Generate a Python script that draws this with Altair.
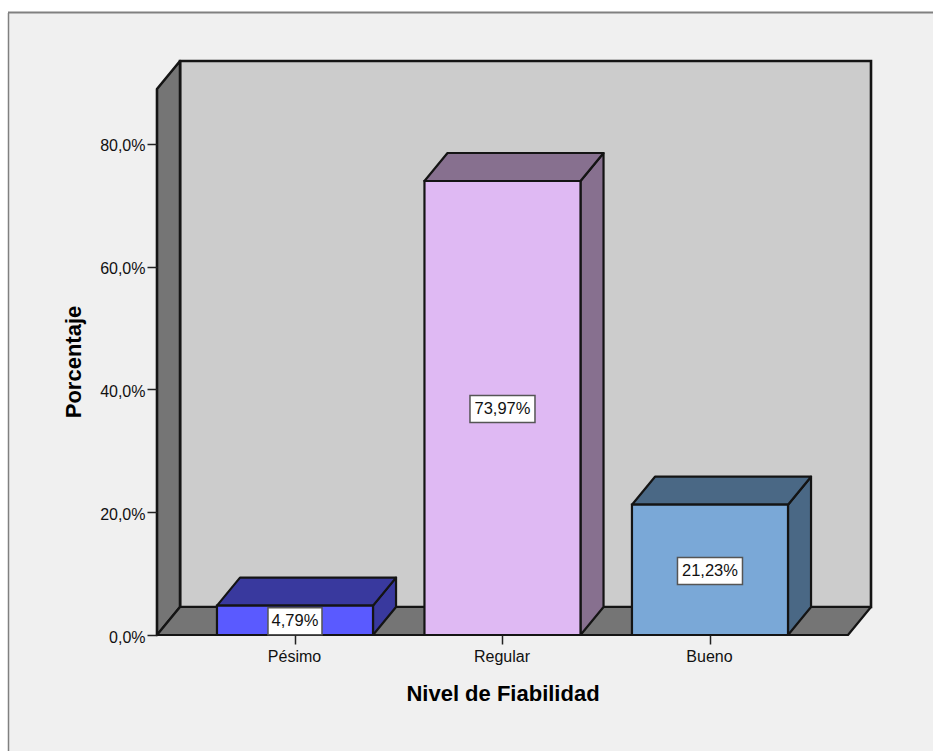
import altair as alt
import pandas as pd

# Survey results: share of respondents per reliability level
categories = ["Pésimo", "Regular", "Bueno"]
percentages = [4.79, 73.97, 21.23]
value_labels = ["4,79%", "73,97%", "21,23%"]
front_colors = ["#5a5aff", "#dfb9f3", "#7aa8d7"]
shade_colors = ["#39399e", "#87708f", "#4a6885"]
y_ticks = [0, 20, 40, 60, 80]

# Pseudo-3D geometry in axis units
BAR_HALF = 0.376
DEPTH_X = 0.111
DEPTH_Y = 4.56
X_MIN = -0.665
X_MAX = 2.665
Y_MAX = 88.96
LABEL_DROP = 0.17
EDGE = "#141414"
FONT = "Liberation Sans"

x_axis = alt.Axis(
    values=[0, 1, 2],
    labelExpr="{}[datum.value]".format(categories),
    title="Nivel de Fiabilidad",
    titleFont=FONT, titleFontSize=22, titleFontWeight="bold", titleColor="#000000",
    titleX=345.5, titleY=65, titleBaseline="alphabetic",
    labelFont=FONT, labelFontSize=16, labelColor="#111111", labelPadding=4, labelOffset=-1,
    tickSize=9, tickWidth=1.5, tickColor="#222222",
    domain=False, grid=False, labelFlush=False, labelOverlap=False, zindex=1,
)
y_axis = alt.Axis(
    values=y_ticks,
    labelExpr="replace(format(datum.value, '.1f'), '.', ',') + '%'",
    title="Porcentaje",
    titleFont=FONT, titleFontSize=22, titleFontWeight="bold", titleColor="#000000",
    titleX=-76.5, titleY=300.5, titleBaseline="alphabetic",
    labelFont=FONT, labelFontSize=16, labelColor="#111111", labelPadding=2, labelOffset=2,
    tickSize=10, tickWidth=1.5, tickColor="#222222",
    domain=False, grid=False, labelOverlap=False, zindex=1,
)
x_scale = alt.Scale(domain=[X_MIN, X_MAX + DEPTH_X], nice=False, zero=False)
y_scale = alt.Scale(domain=[0, Y_MAX + DEPTH_Y], nice=False, zero=False)


def X(field):
    return alt.X(field, type="quantitative", scale=x_scale, axis=x_axis)


def Y(field):
    return alt.Y(field, type="quantitative", scale=y_scale, axis=y_axis)


def side_face(x0, base, top, fill, width=2.2):
    """A face whose vertical edges run from base to top, receding by the depth offset."""
    data = pd.DataFrame({
        "x": [x0, x0 + DEPTH_X],
        "low": [base, base + DEPTH_Y],
        "high": [top, top + DEPTH_Y],
    })
    return alt.Chart(data).mark_area(
        fill=fill, stroke=EDGE, strokeWidth=width, strokeJoin="round"
    ).encode(x=X("x"), y=Y("low"), y2="high")


def top_face(x0, x1, level, fill, width=2.2):
    """A face whose horizontal edges span x0..x1, receding by the depth offset."""
    data = pd.DataFrame({
        "y": [level, level + DEPTH_Y],
        "start": [x0, x0 + DEPTH_X],
        "end": [x1, x1 + DEPTH_X],
    })
    return alt.Chart(data).mark_area(
        orient="horizontal", fill=fill, stroke=EDGE, strokeWidth=width, strokeJoin="round"
    ).encode(y=Y("y"), x=X("start"), x2="end")


# Page: white margin, light grey panel with a darker top and left edge
panel = alt.Chart(pd.DataFrame({"a": [0]})).mark_rect(color="#f0f0f0").encode(
    x=alt.value(-148), x2=alt.value(776), y=alt.value(-48), y2=alt.value(690)
)
panel_top = alt.Chart(pd.DataFrame({"a": [0]})).mark_rule(color="#808080", strokeWidth=2).encode(
    x=alt.value(-149), x2=alt.value(776), y=alt.value(-48.5)
)
panel_left = alt.Chart(pd.DataFrame({"a": [0]})).mark_rule(color="#808080", strokeWidth=1.5).encode(
    x=alt.value(-148.5), y=alt.value(-48), y2=alt.value(690)
)

# Back wall, left wall and floor of the box
back_wall = alt.Chart(pd.DataFrame({
    "x0": [X_MIN + DEPTH_X], "x1": [X_MAX + DEPTH_X], "y0": [DEPTH_Y], "y1": [Y_MAX + DEPTH_Y],
})).mark_rect(fill="#cccccc", stroke=EDGE, strokeWidth=2.6).encode(
    x=X("x0"), x2="x1", y=Y("y0"), y2="y1"
)
left_wall = side_face(X_MIN, 0, Y_MAX, "#757575", 2.6)
floor = top_face(X_MIN, X_MAX, 0, "#757575", 2.2)

layers = [panel, panel_top, panel_left, back_wall, left_wall, floor]

# One box per category: front, top and right faces
for i, value in enumerate(percentages):
    x0, x1 = i - BAR_HALF, i + BAR_HALF
    layers.append(side_face(x1, 0, value, shade_colors[i]))
    layers.append(top_face(x0, x1, value, shade_colors[i]))
    front = alt.Chart(pd.DataFrame({
        "x0": [x0], "x1": [x1], "y0": [0], "y1": [value],
    })).mark_rect(fill=front_colors[i], stroke=EDGE, strokeWidth=2.2).encode(
        x=X("x0"), x2="x1", y=Y("y0"), y2="y1"
    )
    layers.append(front)

# Value labels in white boxes centred on each front face
labels = pd.DataFrame({
    "pos": list(range(len(categories))),
    "mid": [p / 2 - LABEL_DROP for p in percentages],
    "text": value_labels,
})
box_widths = [54, 65, 65]
boxes = []
for i, box_width in enumerate(box_widths):
    boxes.append(
        alt.Chart(labels[labels["pos"] == i]).mark_rect(
            fill="#ffffff", stroke="#555555", strokeWidth=1.5, height=27, width=box_width
        ).encode(x=X("pos"), y=Y("mid"))
    )
label_text = alt.Chart(labels).mark_text(
    font=FONT, fontSize=16.5, color="#111111", baseline="middle", align="center"
).encode(x=X("pos"), y=Y("mid"), text="text:N")

chart = alt.layer(*layers, *boxes, label_text).properties(
    width=714,
    height=574,
    padding={"left": 157, "top": 61, "right": 62, "bottom": 116},
    autosize=alt.AutoSizeParams(type="none"),
    background="#ffffff",
).configure_view(stroke=None)

chart.save("out.html", embed_options={"renderer": "svg", "actions": False})
